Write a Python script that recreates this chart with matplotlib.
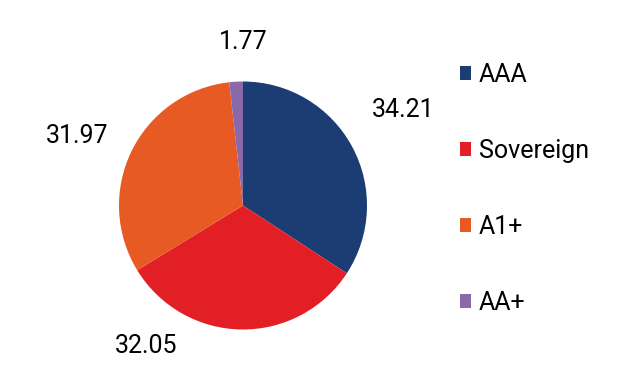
import matplotlib
matplotlib.use('Agg')
import matplotlib.pyplot as plt
from matplotlib.patches import Patch

plt.rcParams['font.family'] = ['Roboto', 'DejaVu Sans']

categories = ['AAA', 'Sovereign', 'A1+', 'AA+']
values = [34.21, 32.05, 31.97, 1.77]
colors = ['#1b3d73', '#e31f26', '#e85a24', '#8a69ab']
# label positions in pie-radius units
label_pos = [(1.29, 0.77), (-0.78, -1.13), (-1.34, 0.56), (0.0, 1.32)]

fig = plt.figure(figsize=(6.22, 3.9), dpi=100)
R = 124
cx, cy = 243, 390 - 205.5
ax = fig.add_axes([(cx - 1.6 * R) / 622, (cy - 1.6 * R) / 390, 3.2 * R / 622, 3.2 * R / 390])
ax.pie(values, colors=colors, startangle=90, counterclock=False, radius=1,
       wedgeprops=dict(linewidth=0))
ax.set_xlim(-1.6, 1.6)
ax.set_ylim(-1.6, 1.6)
ax.set_aspect('equal')
ax.axis('off')

for v, (x, y) in zip(values, label_pos):
    ax.text(x, y, f'{v:.2f}', ha='center', va='center', fontsize=18, color='black')

handles = [Patch(facecolor=c, edgecolor='none') for c in colors]
fig.legend(handles, categories, loc='upper left', bbox_to_anchor=(460 / 622, 1 - 63 / 390),
           frameon=False, handlelength=0.45, handleheight=0.45,
           handletextpad=0.3, labelspacing=2.08, borderaxespad=0, borderpad=0,
           prop=dict(size=18))

fig.savefig('out.png', dpi=100)
